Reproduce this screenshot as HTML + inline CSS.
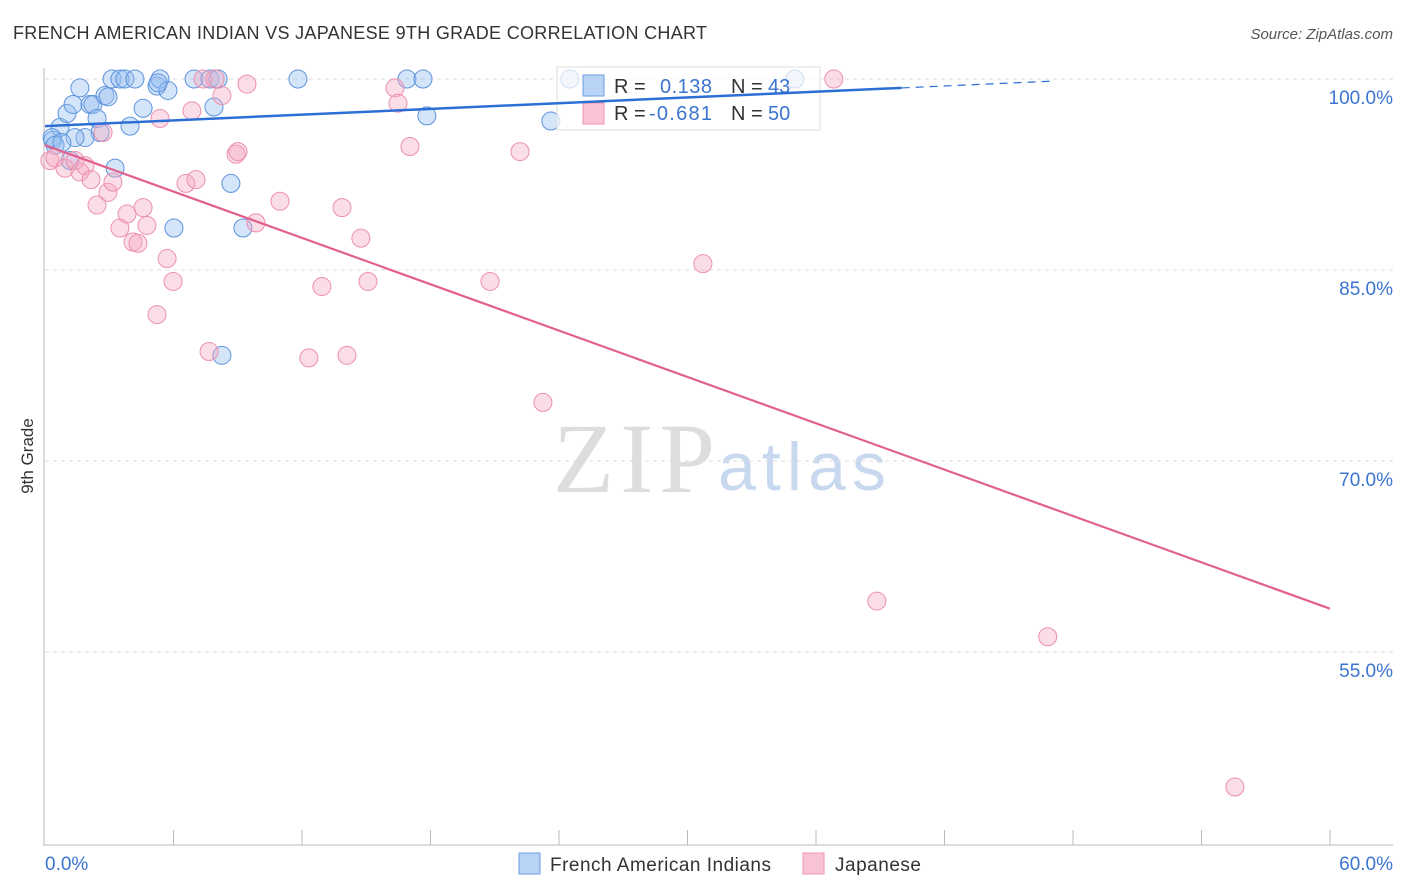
<!DOCTYPE html>
<html><head><meta charset="utf-8"><style>
body{margin:0;background:#fff;font-family:"Liberation Sans",sans-serif;}
#wrap{position:relative;width:1406px;height:892px;overflow:hidden;}
</style></head><body>
<div id="wrap">
<svg id="svg" width="1406" height="892" xmlns="http://www.w3.org/2000/svg">
<text x="13" y="39" font-size="18" fill="#333" textLength="694">FRENCH AMERICAN INDIAN VS JAPANESE 9TH GRADE CORRELATION CHART</text>
<text x="1393" y="39" font-size="15" fill="#555" text-anchor="end" font-style="italic">Source: ZipAtlas.com</text>
<text x="33" y="456" font-size="17" fill="#333" text-anchor="middle" transform="rotate(-90 33 456)">9th Grade</text>
<text x="553" y="492" font-size="100" fill="#ddd" font-family="Liberation Serif,serif" textLength="162">ZIP</text>
<text x="718" y="490" font-size="68" fill="#c8d9ef" textLength="168">atlas</text>
<g id="grid"></g><g id="pts"></g>
<g>
<rect x="557" y="67" width="263" height="63" fill="rgba(255,255,255,0.7)" stroke="#ddd"/>
<rect x="583" y="75" width="21" height="21" fill="#b8d3f5" stroke="#6c9ee0"/>
<rect x="583" y="103" width="21" height="21" fill="#f8c4d4" stroke="#ee94b0"/>
<text x="614" y="93" font-size="20" fill="#333">R = </text><text x="660" y="93" font-size="20" fill="#3b74d1" textLength="52">0.138</text>
<text x="731" y="93" font-size="20" fill="#333">N = </text><text x="768" y="93" font-size="20" fill="#3b74d1">43</text>
<text x="614" y="120" font-size="20" fill="#333">R = </text><text x="649" y="120" font-size="20" fill="#3b74d1" textLength="63">-0.681</text>
<text x="731" y="120" font-size="20" fill="#333">N = </text><text x="768" y="120" font-size="20" fill="#3b74d1">50</text>
</g>
<g id="lines"></g>
<g>
<rect x="519" y="853" width="21" height="21" fill="#b8d3f5" stroke="#6c9ee0"/>
<text x="550" y="871" font-size="19" fill="#333" textLength="221">French American Indians</text>
<rect x="803" y="853" width="21" height="21" fill="#f8c4d4" stroke="#ee94b0"/>
<text x="835" y="871" font-size="19" fill="#333" textLength="86">Japanese</text>
</g>
</svg></div>
<script>
const yTicks=[100,85,70,55];
const xTickLabels=["0.0%","60.0%"];
const blueX=[0.37,0.70,1.03,1.31,1.63,2.10,2.24,2.43,2.80,2.94,3.13,3.50,3.73,4.20,4.58,5.23,5.37,5.74,5.28,3.97,3.27,2.57,1.87,1.40,6.96,7.70,8.08,7.89,8.68,9.24,6.02,8.26,11.81,16.90,17.65,17.83,23.62,24.51,35.01,0.33,0.47,0.79,1.17];
const blueY=[95.2,96.2,97.3,98.0,99.3,98.0,98.0,96.9,98.7,98.6,100,100,100,100,97.7,99.45,100,99.1,99.7,96.3,93.0,95.8,95.4,95.4,100,100,100,97.8,91.8,88.3,88.3,78.3,100,100,100,97.1,96.7,100,100,95.4,94.8,95.0,93.6];
const pinkX=[0.23,0.47,0.93,1.40,1.63,1.87,2.15,2.43,2.71,2.94,3.17,3.50,3.83,4.11,4.34,4.58,4.76,5.23,5.37,5.70,5.98,6.58,6.86,7.05,7.38,7.66,7.94,8.26,8.92,9.01,9.43,9.85,10.97,12.32,12.93,13.87,14.10,14.75,15.08,16.34,16.48,17.04,20.78,22.18,23.25,30.72,36.83,38.84,46.82,55.56];
const pinkY=[93.6,93.8,93.0,93.6,92.7,93.2,92.1,90.1,95.8,91.1,91.9,88.3,89.4,87.2,87.1,89.9,88.5,81.5,96.9,85.9,84.1,91.8,97.5,92.1,100,78.6,100,98.7,94.1,94.3,99.6,88.7,90.4,78.1,83.7,89.9,78.3,87.5,84.1,99.3,98.1,94.7,84.1,94.3,74.6,85.5,100,59.0,56.2,44.4];
const blueLineX=[0,40],blueLineY=[96.3,99.3],blueDashX=[40,47],blueDashY=[99.3,99.83];
const pinkLineX=[0,60],pinkLineY=[94.8,58.4];
const NS="http://www.w3.org/2000/svg";
const X=v=>45+v*(1285/60), Y=v=>79+(100-v)*(191/15);
function mk(t,a,p){const e=document.createElementNS(NS,t);for(const k in a)e.setAttribute(k,a[k]);p.appendChild(e);return e;}
const grid=document.getElementById('grid');
mk('line',{x1:44,y1:68,x2:44,y2:846,stroke:'#bbb'},grid);
mk('line',{x1:44,y1:845,x2:1393,y2:845,stroke:'#bbb'},grid);
for(let i=0;i<=10;i++){const l=mk('line',{x1:X(i*6),y1:845,x2:X(i*6),y2:i==0?845:830,stroke:'#bbb'},grid);

}
yTicks.forEach(t=>{const l=mk('line',{x1:45,y1:Y(t),x2:1393,y2:Y(t),stroke:'#ddd','stroke-dasharray':'4,4'},grid);


const tx=mk('text',{x:1393,y:Y(t)+25,'font-size':19,fill:'#3b74d1','text-anchor':'end'},grid);tx.textContent=t.toFixed(1)+'%';

});
const x0=mk('text',{x:45,y:870,'font-size':19,fill:'#3b74d1'},grid);x0.textContent=xTickLabels[0];


const x1=mk('text',{x:1393,y:870,'font-size':19,fill:'#3b74d1','text-anchor':'end'},grid);x1.textContent=xTickLabels[1];


const pts=document.getElementById('pts');
blueX.forEach((v,i)=>{const c=mk('circle',{cx:X(v),cy:Y(blueY[i]),r:9,fill:'rgba(150,190,240,0.4)',stroke:'#5c93de','stroke-width':1},pts);

});
pinkX.forEach((v,i)=>{const c=mk('circle',{cx:X(v),cy:Y(pinkY[i]),r:9,fill:'rgba(245,170,195,0.4)',stroke:'#ec8fae','stroke-width':1},pts);

});
const ln=document.getElementById('lines');
const b=mk('line',{x1:X(blueLineX[0]),y1:Y(blueLineY[0]),x2:X(blueLineX[1]),y2:Y(blueLineY[1]),stroke:'#2b6fd6','stroke-width':2.5},ln);


const bd=mk('line',{x1:X(blueDashX[0]),y1:Y(blueDashY[0]),x2:X(blueDashX[1]),y2:Y(blueDashY[1]),stroke:'#2b6fd6','stroke-width':1.2,'stroke-dasharray':'8,6'},ln);


const p=mk('line',{x1:X(pinkLineX[0]),y1:Y(pinkLineY[0]),x2:X(pinkLineX[1]),y2:Y(pinkLineY[1]),stroke:'#e2608e','stroke-width':2.2},ln);


</script>
</body></html>
